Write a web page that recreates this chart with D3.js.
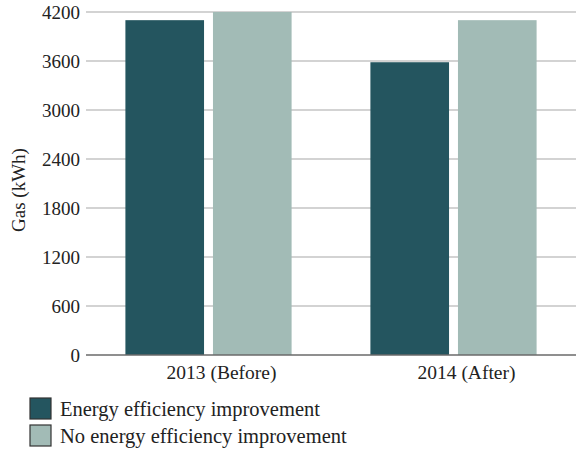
<!DOCTYPE html>
<html>
<head>
<meta charset="utf-8">
<script src="https://cdn.jsdelivr.net/npm/d3@7"></script>
<style>
  html, body { margin: 0; padding: 0; background: #fff; }
  svg { display: block; font-family: "Liberation Serif", "Times New Roman", serif; }
</style>
</head>
<body>
<svg id="chart" width="576" height="452"></svg>
<script>
// Gas use before and after, by group
const categories = ["2013 (Before)", "2014 (After)"];
const seriesNames = ["Energy efficiency improvement", "No energy efficiency improvement"];
const improvementValues = [4100, 3585];
const noImprovementValues = [4200, 4100];
const yTicks = [0, 600, 1200, 1800, 2400, 3000, 3600, 4200];
const colors = ["#24555f", "#a2bbb6"];

const svg = d3.select("#chart");
const margin = { left: 86, right: 0, top: 12, bottom: 97 };
const W = 576, H = 452;
const FONT = "Liberation Serif";

const x = d3.scaleBand().domain(categories).range([margin.left, W - margin.right]).paddingInner(0).paddingOuter(0);
const y = d3.scaleLinear().domain([0, 4200]).range([H - margin.bottom, margin.top]);

// gridlines
svg.append("g")
  .selectAll("line")
  .data(yTicks.filter(d => d > 0))
  .join("line")
  .attr("x1", margin.left).attr("x2", W)
  .attr("y1", d => y(d)).attr("y2", d => y(d))
  .attr("stroke", "#c4c4c4").attr("stroke-width", 1.3);

// bars
const inner = d3.scaleBand().domain([0, 1]).range([0, x.bandwidth()]).paddingInner(0.102).paddingOuter(0.45);
const rows = categories.map((c, i) => ({ c, vals: [improvementValues[i], noImprovementValues[i]] }));
svg.append("g")
  .selectAll("g")
  .data(rows)
  .join("g")
  .attr("transform", d => `translate(${x(d.c)},0)`)
  .selectAll("rect")
  .data(d => d.vals.map((v, k) => ({ v, k })))
  .join("rect")
  .attr("x", d => inner(d.k))
  .attr("width", inner.bandwidth())
  .attr("y", d => y(d.v))
  .attr("height", d => y(0) - y(d.v))
  .attr("fill", d => colors[d.k]);

// y axis
const yAxis = svg.append("g")
  .attr("transform", `translate(${margin.left},0)`)
  .call(d3.axisLeft(y).tickValues(yTicks).tickSize(0).tickPadding(6).tickFormat(d3.format("d")));
yAxis.select(".domain").remove();
yAxis.selectAll("text").attr("font-size", 19).attr("fill", "#222").attr("font-family", FONT);

// baseline + x axis
const xAxis = svg.append("g")
  .attr("transform", `translate(0,${y(0)})`)
  .call(d3.axisBottom(x).tickSize(0).tickPadding(10));
xAxis.select(".domain").attr("stroke", "#6a6a6a").attr("stroke-width", 1.5)
  .attr("d", `M${margin.left},0H${W}`);
xAxis.selectAll("text").attr("font-size", 19.5).attr("fill", "#222").attr("font-family", FONT)
  .attr("dx", 13);

// y axis title
svg.append("text")
  .attr("transform", `translate(25,190) rotate(-90)`)
  .attr("text-anchor", "middle")
  .attr("font-size", 19).attr("fill", "#222")
  .text("Gas (kWh)");

// legend
const legend = svg.append("g").attr("transform", "translate(30,398)");
const item = legend.selectAll("g").data(seriesNames).join("g")
  .attr("transform", (d, i) => `translate(0,${i * 27})`);
item.append("rect")
  .attr("width", 21).attr("height", 21)
  .attr("fill", (d, i) => colors[i])
  .attr("stroke", "#333").attr("stroke-width", 1.2);
item.append("text")
  .attr("x", 30).attr("y", 18)
  .attr("font-size", 20.5).attr("fill", "#222")
  .text(d => d);
</script>
</body>
</html>
